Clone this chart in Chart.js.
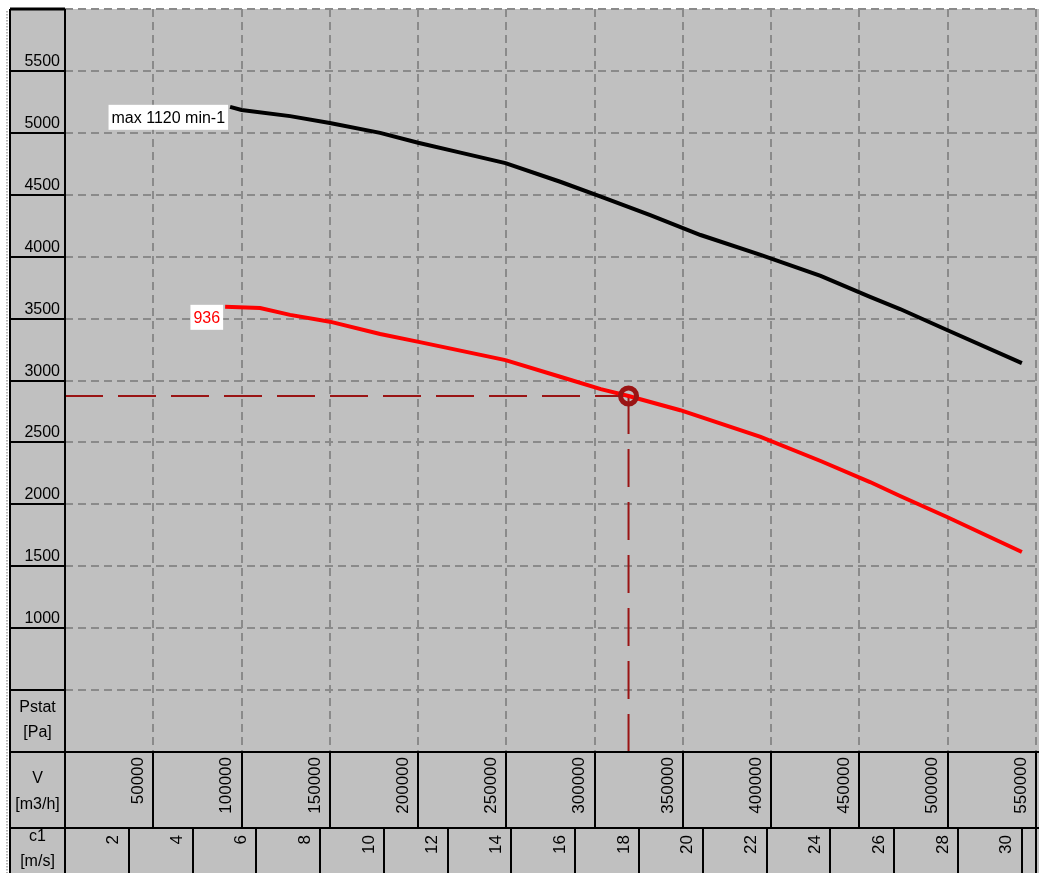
<!DOCTYPE html>
<html>
<head>
<meta charset="utf-8">
<title>Pstat / V</title>
<script src="https://cdn.jsdelivr.net/npm/chart.js@4.4.1/dist/chart.umd.min.js"></script>
<style>
  html, body { margin: 0; padding: 0; background: #fff; }
  canvas { display: block; }
</style>
</head>
<body>
<canvas id="fan" width="1039" height="873"></canvas>
<script>
// Static pressure axis [Pa]
const pressureTicks = [1000, 1500, 2000, 2500, 3000, 3500, 4000, 4500, 5000, 5500];
const pressureTitle = ['Pstat', '[Pa]'];
// Volume flow axis [m3/h]
const flowTicks = [50000, 100000, 150000, 200000, 250000, 300000, 350000, 400000, 450000, 500000, 550000];
const flowTitle = ['V', '[m3/h]'];
// Outlet velocity axis [m/s]
const speedTicks = [2, 4, 6, 8, 10, 12, 14, 16, 18, 20, 22, 24, 26, 28, 30];
const speedTitle = ['c1', '[m/s]'];
const speedAtFlowMax = 30.45;   // c1 at 550000 m3/h

// Curve at maximum speed
const maxCurveLabel = 'max 1120 min-1';
const maxCurveFlow = [93500, 100000, 127500, 150000, 178500, 200000, 224000, 249500, 280500, 303500,
                      331500, 360000, 394000, 428000, 456000, 473000, 499600, 542000];
const maxCurvePressure = [5210, 5185, 5135, 5080, 5000, 4920, 4840, 4755, 4605, 4485,
                          4335, 4175, 4015, 3845, 3675, 3577, 3408, 3140];

// Curve at operating speed
const runCurveLabel = '936';
const runCurveFlow = [90700, 110500, 127500, 150000, 178500, 201000, 249500, 280500, 303500, 319200,
                      348500, 394000, 428000, 456000, 473000, 499600, 542000];
const runCurvePressure = [3595, 3585, 3530, 3475, 3375, 3310, 3165, 3030, 2930, 2875,
                          2760, 2545, 2350, 2180, 2067, 1898, 1615];

// Duty point
const dutyFlow = 319200;
const dutyPressure = 2875;

const FONT = '"Liberation Sans", Arial, sans-serif';
const PANEL = '#c0c0c0';
const DUTY = '#9a1414';

function strokeLine(ctx, x1, y1, x2, y2) {
  ctx.beginPath();
  ctx.moveTo(x1, y1);
  ctx.lineTo(x2, y2);
  ctx.stroke();
}

// Panel background, scale table with its labels
const tablePlugin = {
  id: 'table',
  beforeDraw(chart) {
    const { ctx, width, height, chartArea: ca } = chart;
    ctx.save();
    ctx.fillStyle = '#fff';
    ctx.fillRect(0, 0, width, height);
    ctx.fillStyle = PANEL;
    ctx.fillRect(10, ca.top, width - 10, height - ca.top);
    ctx.fillStyle = '#b4b4b4';
    for (let y = ca.top + 2; y < height; y += 3) ctx.fillRect(6, y, 2, 1.5);
    ctx.restore();
  },
  afterDraw(chart) {
    const { ctx, width, height, chartArea: ca, scales } = chart;
    const xs = scales.x, ys = scales.y, cs = scales.c1;
    const left = 10;
    const rowTop = ca.bottom;
    const rowMid = ca.bottom + 76;
    const colMid = (left + ca.left) / 2;

    ctx.save();
    ctx.strokeStyle = '#000';
    ctx.lineWidth = 2;
    strokeLine(ctx, left, ca.top, left, height);
    strokeLine(ctx, ca.left, ca.top, ca.left, height);
    ctx.lineWidth = 3;
    strokeLine(ctx, left, ca.top, ca.left, ca.top);
    ctx.lineWidth = 2;
    ys.ticks.forEach(t => {
      if (t.value > ys.min && t.value < ys.max) {
        const y = Math.round(ys.getPixelForValue(t.value));
        strokeLine(ctx, left, y, ca.left, y);
      }
    });
    strokeLine(ctx, left, rowTop, width, rowTop);
    strokeLine(ctx, left, rowMid, width, rowMid);
    flowTicks.forEach(v => {
      const x = Math.round(xs.getPixelForValue(v));
      strokeLine(ctx, x, rowTop, x, rowMid);
    });
    speedTicks.forEach(v => {
      const x = Math.round(cs.getPixelForValue(v));
      strokeLine(ctx, x, rowMid, x, height);
    });
    const edge = Math.round(ca.right);
    strokeLine(ctx, edge, rowMid, edge, height);

    ctx.fillStyle = '#000';
    ctx.font = '16px ' + FONT;
    ctx.textAlign = 'right';
    ctx.textBaseline = 'alphabetic';
    pressureTicks.forEach(v => {
      ctx.fillText(String(v), ca.left - 5, ys.getPixelForValue(v) - 5);
    });

    ctx.textAlign = 'center';
    ctx.fillText(pressureTitle[0], colMid, rowTop - 40);
    ctx.fillText(pressureTitle[1], colMid, rowTop - 15);
    ctx.fillText(flowTitle[0], colMid, rowTop + 31);
    ctx.fillText(flowTitle[1], colMid, rowTop + 57);
    ctx.fillText(speedTitle[0], colMid, rowMid + 13);
    ctx.fillText(speedTitle[1], colMid, rowMid + 38);

    ctx.font = '17px ' + FONT;
    ctx.textAlign = 'right';
    ctx.textBaseline = 'middle';
    flowTicks.forEach(v => {
      ctx.save();
      ctx.translate(xs.getPixelForValue(v) - 15, rowTop + 5);
      ctx.rotate(-Math.PI / 2);
      ctx.fillText(String(v), 0, 0);
      ctx.restore();
    });
    speedTicks.forEach(v => {
      ctx.save();
      ctx.translate(cs.getPixelForValue(v) - 15, rowMid + 7);
      ctx.rotate(-Math.PI / 2);
      ctx.fillText(String(v), 0, 0);
      ctx.restore();
    });
    ctx.restore();
  },
  afterDatasetsDraw(chart) {
    const { ctx, scales } = chart;
    const tag = (flow, pressure, text, color) => {
      const x = scales.x.getPixelForValue(flow);
      const y = scales.y.getPixelForValue(pressure);
      ctx.save();
      ctx.font = '16px ' + FONT;
      const w = ctx.measureText(text).width + 6;
      const right = x - 2, top = y - 2, h = 25;
      ctx.fillStyle = '#fff';
      ctx.fillRect(right - w, top, w, h);
      ctx.fillStyle = color;
      ctx.textAlign = 'right';
      ctx.textBaseline = 'middle';
      ctx.fillText(text, right - 3, top + h / 2 + 1);
      ctx.restore();
    };
    tag(maxCurveFlow[0], maxCurvePressure[0], maxCurveLabel, '#000');
    tag(runCurveFlow[0], runCurvePressure[0], runCurveLabel, '#ff0000');
  }
};

const toPoints = (xs, ys) => xs.map((x, i) => ({ x, y: ys[i] }));

new Chart(document.getElementById('fan'), {
  type: 'line',
  data: {
    datasets: [
      {
        label: 'duty point',
        data: [{ x: dutyFlow, y: dutyPressure }],
        showLine: false,
        pointStyle: 'circle',
        pointRadius: 8,
        pointHoverRadius: 8,
        pointBorderWidth: 5,
        pointBorderColor: DUTY,
        pointBackgroundColor: 'rgba(0,0,0,0)'
      },
      {
        label: runCurveLabel,
        data: toPoints(runCurveFlow, runCurvePressure),
        borderColor: '#ff0000',
        borderWidth: 4,
        pointRadius: 0,
        tension: 0
      },
      {
        label: maxCurveLabel,
        data: toPoints(maxCurveFlow, maxCurvePressure),
        borderColor: '#000',
        borderWidth: 4,
        pointRadius: 0,
        tension: 0
      },
      {
        label: 'duty pressure',
        data: [{ x: 0, y: dutyPressure }, { x: dutyFlow, y: dutyPressure }],
        borderColor: DUTY,
        borderWidth: 2,
        borderDash: [38, 15],
        pointRadius: 0
      },
      {
        label: 'duty flow',
        data: [{ x: dutyFlow, y: dutyPressure }, { x: dutyFlow, y: 0 }],
        borderColor: DUTY,
        borderWidth: 2,
        borderDash: [38, 15],
        pointRadius: 0
      }
    ]
  },
  options: {
    responsive: false,
    animation: false,
    devicePixelRatio: 1,
    events: [],
    layout: { autoPadding: false, padding: { left: 65, top: 9, right: 3, bottom: 121 } },
    plugins: { legend: { display: false }, tooltip: { enabled: false } },
    scales: {
      x: {
        type: 'linear',
        min: 0,
        max: 550000,
        ticks: { display: false, stepSize: 50000 },
        grid: { color: '#8a8a8a', lineWidth: 2, drawTicks: false },
        border: { display: false, dash: [8, 5] }
      },
      c1: {
        type: 'linear',
        axis: 'x',
        position: 'bottom',
        display: false,
        min: 0,
        max: speedAtFlowMax
      },
      y: {
        type: 'linear',
        min: 0,
        max: 6000,
        ticks: { display: false, stepSize: 500 },
        grid: { color: '#8a8a8a', lineWidth: 2, drawTicks: false },
        border: { display: false, dash: [8, 5] }
      }
    }
  },
  plugins: [tablePlugin]
});
</script>
</body>
</html>
